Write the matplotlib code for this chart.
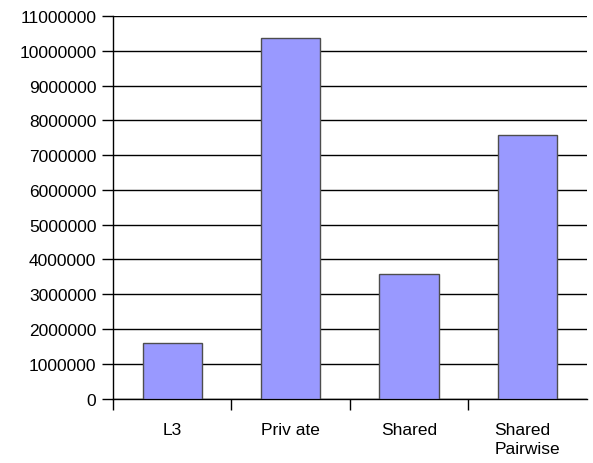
import matplotlib
matplotlib.use("Agg")
import matplotlib.pyplot as plt
from matplotlib.ticker import MultipleLocator, FixedLocator, NullFormatter

categories = ["L3", "Priv ate", "Shared", "Shared\nPairwise"]
values = [1590000, 10380000, 3570000, 7580000]

plt.rcParams['font.family'] = ['Liberation Sans', 'DejaVu Sans']

fig = plt.figure(figsize=(5.93, 4.64), dpi=100)
ax = fig.add_axes([113 / 593, 1 - 399.5 / 464, (586.5 - 113) / 593, (399.5 - 17) / 464])

x = list(range(len(categories)))
ax.bar(x, values, width=0.5, color="#9999ff", edgecolor="#4d4d4d", linewidth=1.0, zorder=3)

ax.set_xlim(-0.5, len(categories) - 0.5)
ax.set_ylim(0, 11000000)

ax.yaxis.set_major_locator(MultipleLocator(1000000))
ax.yaxis.set_major_formatter(plt.FuncFormatter(lambda v, p: f"{int(round(v))}"))
ax.grid(axis="y", color="black", linewidth=1.0, zorder=0)

# category boundaries get the tick marks, centres get the labels
ax.xaxis.set_major_locator(FixedLocator([i - 0.5 for i in range(len(categories))]))
ax.xaxis.set_major_formatter(NullFormatter())
ax.xaxis.set_minor_locator(FixedLocator(x))
ax.set_xticklabels(categories, minor=True, ha="center")
for lbl in ax.get_xticklabels(minor=True):
    lbl.set_multialignment("left")
    lbl.set_linespacing(1.35)

ax.tick_params(axis="x", which="major", direction="out", length=8, width=1.0, color="black")
ax.tick_params(axis="x", which="minor", length=0, pad=17, labelsize=12.5)
ax.tick_params(axis="y", direction="out", length=8, width=1.0, color="black", pad=4, labelsize=12.5)

for s in ["top", "right"]:
    ax.spines[s].set_visible(False)
for s in ["left", "bottom"]:
    ax.spines[s].set_color("black")
    ax.spines[s].set_linewidth(1.0)

fig.savefig("out.png", dpi=100, facecolor="white")
